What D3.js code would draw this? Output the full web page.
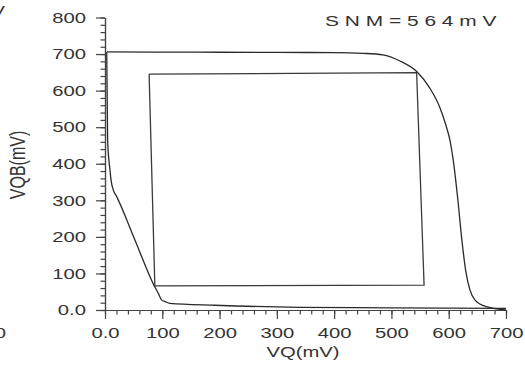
<!DOCTYPE html>
<html>
<head>
<meta charset="utf-8">
<script src="https://cdn.jsdelivr.net/npm/d3@7"></script>
<style>
body { margin: 0; background: #fff; }
text { font-family: "Liberation Sans", Arial, sans-serif; fill: #333; }
</style>
</head>
<body>
<svg width="525" height="369"></svg>
<script>
// right-hand curve (VQB vs VQ)
var vq1 = [3.5, 100, 200, 300, 400, 450, 485, 515, 545, 567, 585, 595, 602, 609, 616, 623, 630, 637, 646, 666, 700];
var vqb1 = [706, 705.5, 705, 704.5, 704, 702, 698, 681, 651, 607, 552, 506, 465, 397, 301, 191, 104, 55, 27, 9, 0];

// left-hand curve (mirrored)
var vq2 = [3, 4.6, 6.8, 8.7, 10.5, 14.5, 20.4, 52.4, 86, 93, 99, 105, 113, 192, 340, 500, 700];
var vqb2 = [706, 465, 410, 383, 356, 328, 310, 191, 66, 46, 27, 23, 18, 13, 7.4, 6, 4.6];

// largest square inside the eye
var squareVq = [77, 544, 557, 87, 77];
var squareVqb = [645, 649, 68, 66, 645];

var xTicks = [0, 100, 200, 300, 400, 500, 600, 700];
var yTicks = [0, 100, 200, 300, 400, 500, 600, 700, 800];
var snmLabel = "S N M = 5 6 4 m V";

var svg = d3.select('svg');
var sx = 1.35; // text in the picture is stretched sideways

var scaleX = d3.scaleLinear().domain([0, 700]).range([105, 506]);
var scaleY = d3.scaleLinear().domain([0, 800]).range([310, 17.5]);

function fmt(d) { return d === 0 ? '0.0' : d; }

// minor ticks every 20
svg.append('g')
  .attr('class', 'minor')
  .attr('transform', 'translate(0,310)')
  .call(d3.axisBottom(scaleX).tickValues(d3.range(0, 701, 20)).tickSize(4.5).tickSizeOuter(0).tickFormat(''));
svg.append('g')
  .attr('class', 'minor')
  .attr('transform', 'translate(105,0)')
  .call(d3.axisLeft(scaleY).tickValues(d3.range(0, 801, 20)).tickSize(4.5).tickSizeOuter(0).tickFormat(''));

var xAxis = svg.append('g')
  .attr('transform', 'translate(0,310)')
  .call(d3.axisBottom(scaleX).tickValues(xTicks).tickSize(9).tickSizeOuter(0).tickFormat(fmt));
var yAxis = svg.append('g')
  .attr('transform', 'translate(105,0)')
  .call(d3.axisLeft(scaleY).tickValues(yTicks).tickSize(9).tickSizeOuter(0).tickFormat(fmt));

svg.selectAll('.domain, .tick line')
  .attr('stroke', '#444')
  .attr('stroke-width', 1.2);

xAxis.selectAll('text')
  .attr('font-size', 15)
  .attr('font-family', null)
  .attr('fill', '#333')
  .attr('y', 17)
  .attr('transform', 'scale(' + sx + ',1)');
yAxis.selectAll('text')
  .attr('font-size', 15)
  .attr('font-family', null)
  .attr('fill', '#333')
  .attr('x', -19 / sx)
  .attr('transform', 'scale(' + sx + ',1)');

var line = d3.line()
  .x(function(d){ return scaleX(d[0]); })
  .y(function(d){ return scaleY(d[1]); })
  .curve(d3.curveMonotoneX);

svg.append('path')
  .datum(d3.zip(vq1, vqb1))
  .attr('d', line)
  .attr('fill', 'none')
  .attr('stroke', '#2a2a2a')
  .attr('stroke-width', 1.3);

svg.append('path')
  .datum(d3.zip(vq2, vqb2))
  .attr('d', line)
  .attr('fill', 'none')
  .attr('stroke', '#2a2a2a')
  .attr('stroke-width', 1.3);

svg.append('path')
  .datum(d3.zip(squareVq, squareVqb))
  .attr('d', d3.line().x(function(d){ return scaleX(d[0]); }).y(function(d){ return scaleY(d[1]); }))
  .attr('fill', 'none')
  .attr('stroke', '#3a3a3a')
  .attr('stroke-width', 1.3);

// labels
svg.append('text')
  .attr('transform', 'translate(303,357) scale(' + sx + ',1)')
  .attr('text-anchor', 'middle')
  .attr('font-size', 15)
  .text('VQ(mV)');

svg.append('text')
  .attr('transform', 'translate(25,165) scale(' + sx + ',1) rotate(-90)')
  .attr('text-anchor', 'middle')
  .attr('font-size', 16)
  .text('VQB(mV)');

svg.append('text')
  .attr('transform', 'translate(325,26) scale(' + sx + ',1)')
  .attr('font-size', 15.5)
  .text(snmLabel);

// bits of the neighbouring chart at the left edge
svg.append('text')
  .attr('transform', 'translate(5,16) scale(' + sx + ',1)')
  .attr('text-anchor', 'end')
  .attr('font-size', 15)
  .text('V');
svg.append('text')
  .attr('transform', 'translate(6,338) scale(' + sx + ',1)')
  .attr('text-anchor', 'end')
  .attr('font-size', 15)
  .text('0');
</script>
</body>
</html>
